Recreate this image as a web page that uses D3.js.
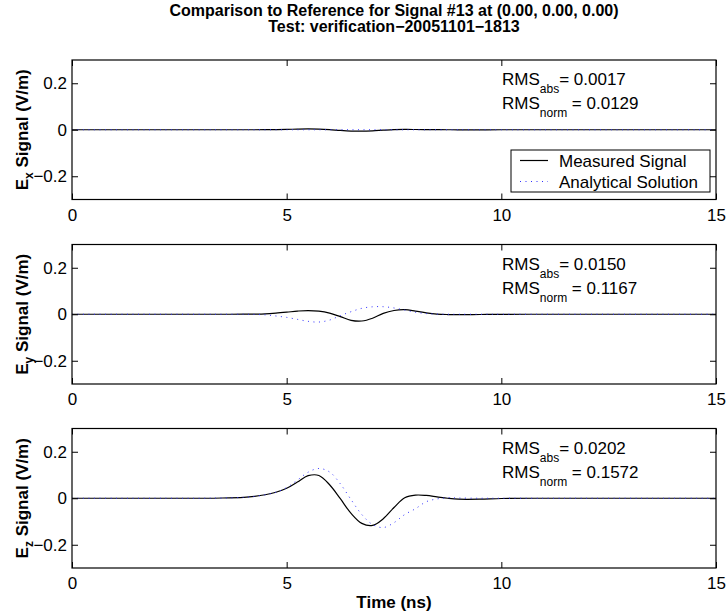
<!DOCTYPE html>
<html>
<head>
<meta charset="utf-8">
<script src="https://cdn.jsdelivr.net/npm/d3@7"></script>
<style>
  body { margin: 0; background: #fff; }
  text { font-family: "Liberation Sans", Arial, Helvetica, sans-serif; }
</style>
</head>
<body>
<div id="chart"></div>
<script>
var titleLines = ["Comparison to Reference for Signal #13 at (0.00, 0.00, 0.00)",
                  "Test: verification\u221220051101\u22121813"];
var components = ["x", "y", "z"];
var rmsAbs = ["0.0017", "0.0150", "0.0202"];
var rmsNorm = ["0.0129", "0.1167", "0.1572"];
var legendLabels = ["Measured Signal", "Analytical Solution"];
var xTicks = [0, 5, 10, 15];
var yTicks = [-0.2, 0, 0.2];
var yTickLabels = ["\u22120.2", "0", "0.2"];

// time samples (ns), denser round the pulse
var timeNs = [0, 1, 2, 3, 3.5, 4, 4.25, 4.5, 4.75, 5, 5.25, 5.5, 5.75, 6, 6.25, 6.5,
              6.75, 7, 7.25, 7.5, 7.75, 8, 8.25, 8.5, 8.75, 9, 9.5, 10, 11, 12, 13, 14, 15];

var exMeasured = [0, 0, 0, 0, 0, 0, 0, 0.0003, 0.0008, 0.0015, 0.0028, 0.0035, 0.0028, 0.0005, -0.003, -0.0055,
                  -0.006, -0.0045, -0.002, 0.0002, 0.0012, 0.001, 0.0005, 0.0002, 0, -0.0003, -0.0002, 0, 0, 0, 0, 0, 0];
var exAnalytical = [0, 0, 0, 0, 0, 0, 0, 0, 0, 0, 0, 0, 0, 0, 0, 0,
                    0, 0, 0, 0, 0, 0, 0, 0, 0, 0, 0, 0, 0, 0, 0, 0, 0];

var eyMeasured = [0, 0, 0, 0, 0, 0.0002, 0.0008, 0.002, 0.005, 0.009, 0.0135, 0.016, 0.0135, 0.005, -0.01, -0.026,
                  -0.029, -0.017, 0.004, 0.016, 0.0195, 0.0135, 0.006, 0.0008, -0.0012, -0.0018, -0.001, -0.0003, 0, 0, 0, 0, 0];
var eyAnalytical = [0, 0, 0, 0, 0, 0, -0.0008, -0.0025, -0.0075, -0.0135, -0.022, -0.0305, -0.0335, -0.025, -0.006, 0.011,
                    0.0255, 0.032, 0.0325, 0.027, 0.018, 0.0085, 0.003, 0.0008, 0, 0, 0, 0, 0, 0, 0, 0, 0];

var ezMeasured = [0, 0, 0, 0, 0.001, 0.004, 0.008, 0.015, 0.026, 0.043, 0.07, 0.097, 0.098, 0.058, -0.002, -0.065,
                  -0.108, -0.117, -0.088, -0.04, 0.002, 0.0135, 0.012, 0.006, 0, -0.004, -0.004, -0.001, 0, 0, 0, 0, 0];
var ezAnalytical = [0, 0, 0, 0, 0.001, 0.004, 0.008, 0.015, 0.026, 0.046, 0.078, 0.112, 0.128, 0.113, 0.062, -0.006,
                    -0.07, -0.113, -0.126, -0.105, -0.07, -0.045, -0.015, -0.003, 0.002, 0.001, 0, 0, 0, 0, 0, 0, 0];

(function() {
  var width = 727, height = 611;
  var plotLeft = 72, plotRight = 716;
  var panelTops = [60, 244.5, 428.5];
  var panelHeight = 139.5;

  var measuredSets = [exMeasured, eyMeasured, ezMeasured];
  var analyticalSets = [exAnalytical, eyAnalytical, ezAnalytical];

  var svg = d3.select("#chart")
    .append("svg")
    .attr("width", width)
    .attr("height", height)

  var xPositionScale = d3.scaleLinear()
    .domain([0, 15])
    .range([plotLeft, plotRight])

  // title
  titleLines.forEach(function(line, i) {
    svg.append("text")
      .text(line)
      .attr("x", (plotLeft + plotRight) / 2)
      .attr("y", 16 + i * 15.5)
      .attr("text-anchor", "middle")
      .style("font-weight", "bold")
      .style("font-size", "16px")
  })

  components.forEach(function(comp, p) {
    var top = panelTops[p];
    var bottom = top + panelHeight;

    var yPositionScale = d3.scaleLinear()
      .domain([-0.3, 0.3])
      .range([bottom, top])

    var g = svg.append("g").attr("class", "panel-" + comp)

    g.append("rect")
      .attr("x", plotLeft)
      .attr("y", top)
      .attr("width", plotRight - plotLeft)
      .attr("height", panelHeight)
      .attr("fill", "white")

    var line = d3.line()
      .x(function(d, i) { return xPositionScale(timeNs[i]) })
      .y(function(d) { return yPositionScale(d) })
      .curve(d3.curveCatmullRom)

    g.append("path")
      .datum(measuredSets[p])
      .attr("d", line)
      .attr("stroke", "black")
      .attr("stroke-width", 1.2)
      .attr("fill", "none")

    g.append("path")
      .datum(analyticalSets[p])
      .attr("d", line)
      .attr("stroke", "#2f2fff")
      .attr("stroke-width", 1)
      .attr("fill", "none")
      .style("stroke-dasharray", "1,4.5")

    // axes, ticks pointing inwards
    var xAxis = d3.axisBottom(xPositionScale).tickValues(xTicks)
      .tickSizeInner(-6).tickSizeOuter(0).tickPadding(9)
    g.append("g")
      .attr("class", "axis x-axis")
      .attr("transform", "translate(0," + bottom + ")")
      .call(xAxis)

    g.append("g")
      .attr("class", "axis x-axis-top")
      .attr("transform", "translate(0," + top + ")")
      .call(d3.axisTop(xPositionScale).tickValues(xTicks)
        .tickSizeInner(-6).tickSizeOuter(0).tickFormat(""))

    var yAxis = d3.axisLeft(yPositionScale).tickValues(yTicks)
      .tickSizeInner(-6).tickSizeOuter(0).tickPadding(5)
      .tickFormat(function(d, i) { return yTickLabels[i] })
    g.append("g")
      .attr("class", "axis y-axis")
      .attr("transform", "translate(" + plotLeft + ",0)")
      .call(yAxis)

    g.append("g")
      .attr("class", "axis y-axis-right")
      .attr("transform", "translate(" + plotRight + ",0)")
      .call(d3.axisRight(yPositionScale).tickValues(yTicks)
        .tickSizeInner(-6).tickSizeOuter(0).tickFormat(""))

    g.selectAll(".axis .domain").remove()
    g.selectAll(".axis text")
      .style("font-size", "17px")
      .style("font-family", "'Liberation Sans', Arial, sans-serif")
      .attr("fill", "black")
    g.selectAll(".axis line").attr("stroke", "black")

    g.append("rect")
      .attr("x", plotLeft)
      .attr("y", top)
      .attr("width", plotRight - plotLeft)
      .attr("height", panelHeight)
      .attr("fill", "none")
      .attr("stroke", "black")
      .attr("stroke-width", 1.2)

    // y label
    var ylab = g.append("text")
      .attr("transform", "translate(28," + (top + panelHeight / 2) + ") rotate(-90)")
      .attr("text-anchor", "middle")
      .style("font-weight", "bold")
      .style("font-size", "17px")
    ylab.append("tspan").text("E")
    ylab.append("tspan").text(comp).attr("dy", 5).style("font-size", "12px")
    ylab.append("tspan").text(" Signal (V/m)").attr("dy", -5)

    // rms annotations
    var rms1 = g.append("text")
      .attr("x", 502)
      .attr("y", top + 25)
      .style("font-size", "17px")
    rms1.append("tspan").text("RMS")
    rms1.append("tspan").text("abs").attr("dy", 8).style("font-size", "12px")
    rms1.append("tspan").text("= " + rmsAbs[p]).attr("dy", -8)

    var rms2 = g.append("text")
      .attr("x", 502)
      .attr("y", top + 49)
      .style("font-size", "17px")
    rms2.append("tspan").text("RMS")
    rms2.append("tspan").text("norm").attr("dy", 8).style("font-size", "12px")
    rms2.append("tspan").text(" = " + rmsNorm[p]).attr("dy", -8)

    if (p === 0) {
      var legend = g.append("g").attr("class", "legend")
      legend.append("rect")
        .attr("x", plotRight - 205)
        .attr("y", top + 90)
        .attr("width", 199)
        .attr("height", 42)
        .attr("fill", "white")
        .attr("stroke", "black")
        .attr("stroke-width", 1)
      legendLabels.forEach(function(label, i) {
        var ly = top + 100.5 + i * 21;
        legend.append("line")
          .attr("x1", plotRight - 196)
          .attr("x2", plotRight - 168)
          .attr("y1", ly)
          .attr("y2", ly)
          .attr("stroke", i === 0 ? "black" : "#2f2fff")
          .attr("stroke-width", i === 0 ? 1.2 : 1)
          .style("stroke-dasharray", i === 0 ? null : "1,4.5")
        legend.append("text")
          .text(label)
          .attr("x", plotRight - 157)
          .attr("y", ly + 6.5)
          .style("font-size", "17px")
      })
    }

    if (p === components.length - 1) {
      svg.append("text")
        .text("Time (ns)")
        .attr("x", (plotLeft + plotRight) / 2)
        .attr("y", bottom + 40)
        .attr("text-anchor", "middle")
        .style("font-weight", "bold")
        .style("font-size", "17px")
    }
  })
})();
</script>
</body>
</html>
